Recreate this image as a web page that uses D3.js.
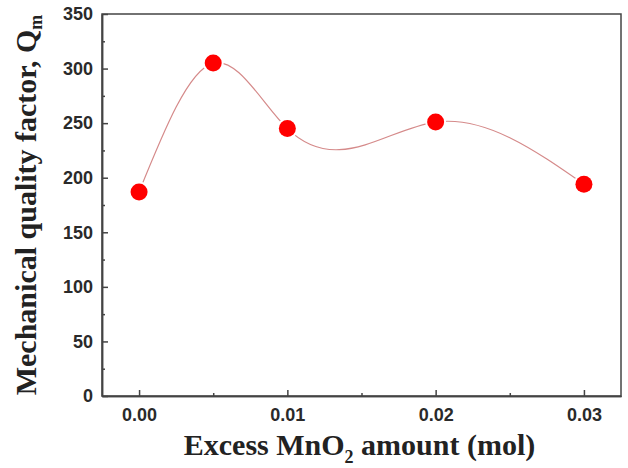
<!DOCTYPE html>
<meta charset="utf-8">
<style>
	body {
		margin: 0;
		background: #fff;
	}

	.axis text {
		font: bold 18px "Liberation Sans", Arial, sans-serif;
		fill: #2a2a2a;
	}

	.axis path,
	.axis line {
		fill: none;
		stroke: #444;
		stroke-width: 1.5;
	}

	.label {
		font: bold 30px "Liberation Serif", "Times New Roman", serif;
		fill: #222;
	}
</style>

<body>
	<script src="https://d3js.org/d3.v7.min.js"></script>
	<script>
		var excess = [0.000, 0.005, 0.010, 0.020, 0.030];
		var qm = [187, 305, 245, 251, 194];
		var xTicks = [0.00, 0.01, 0.02, 0.03];
		var yTicks = [0, 50, 100, 150, 200, 250, 300, 350];

		var margin = {
				top: 14,
				right: 7,
				bottom: 72,
				left: 102
			},
			width = 628 - margin.left - margin.right,
			height = 468 - margin.top - margin.bottom;

		var data = excess.map(function(d, i) {
			return { x: d, y: qm[i] };
		});

		// natural cubic spline y(x), drawn as exact bezier pieces
		function SplineX(context) {
			this._context = context;
		}
		SplineX.prototype = {
			areaStart: function() {},
			areaEnd: function() {},
			lineStart: function() { this._x = []; this._y = []; },
			point: function(x, y) { this._x.push(+x); this._y.push(+y); },
			lineEnd: function() {
				var xs = this._x, ys = this._y, n = xs.length - 1, c = this._context;
				if (n < 1) return;
				var h = [], i;
				for (i = 0; i < n; i++) h.push(xs[i + 1] - xs[i]);
				// solve for second derivatives, M0 = Mn = 0
				var M = new Array(n + 1).fill(0);
				if (n > 1) {
					var a = [], b = [], cc = [], r = [];
					for (i = 1; i < n; i++) {
						a.push(h[i - 1]);
						b.push(2 * (h[i - 1] + h[i]));
						cc.push(h[i]);
						r.push(6 * ((ys[i + 1] - ys[i]) / h[i] - (ys[i] - ys[i - 1]) / h[i - 1]));
					}
					var m = b.length;
					for (i = 1; i < m; i++) {
						var w = a[i] / b[i - 1];
						b[i] -= w * cc[i - 1];
						r[i] -= w * r[i - 1];
					}
					M[m] = r[m - 1] / b[m - 1];
					for (i = m - 2; i >= 0; i--) M[i + 1] = (r[i] - cc[i] * M[i + 2]) / b[i];
				}
				var d = [];
				for (i = 0; i < n; i++) {
					d.push(-M[i] * h[i] / 3 - M[i + 1] * h[i] / 6 + (ys[i + 1] - ys[i]) / h[i]);
				}
				d.push(M[n - 1] * h[n - 1] / 6 + M[n] * h[n - 1] / 3 + (ys[n] - ys[n - 1]) / h[n - 1]);
				c.moveTo(xs[0], ys[0]);
				for (i = 0; i < n; i++) {
					c.bezierCurveTo(
						xs[i] + h[i] / 3, ys[i] + d[i] * h[i] / 3,
						xs[i + 1] - h[i] / 3, ys[i + 1] - d[i + 1] * h[i] / 3,
						xs[i + 1], ys[i + 1]);
				}
			}
		};
		function curveSplineX(context) { return new SplineX(context); }

		var x = d3.scaleLinear()
			.domain([-0.0025, 0.0325])
			.range([0, width]);

		var y = d3.scaleLinear()
			.domain([0, 350])
			.range([height, 0]);

		var svg = d3.select("body").append("svg")
			.attr("width", width + margin.left + margin.right)
			.attr("height", height + margin.top + margin.bottom)
			.append("g")
			.attr("transform", "translate(" + margin.left + "," + margin.top + ")");

		// minor ticks first, no labels
		svg.append("g")
			.attr("class", "axis")
			.attr("transform", "translate(0," + height + ")")
			.call(d3.axisBottom(x).tickValues([0.005, 0.015, 0.025]).tickSizeInner(-3).tickSizeOuter(0).tickFormat(""));

		svg.append("g")
			.attr("class", "axis")
			.call(d3.axisLeft(y).tickValues([25, 75, 125, 175, 225, 275, 325]).tickSizeInner(-3).tickSizeOuter(0).tickFormat(""));

		svg.append("g")
			.attr("class", "axis")
			.attr("transform", "translate(0," + height + ")")
			.call(d3.axisBottom(x).tickValues(xTicks).tickSizeInner(-6).tickSizeOuter(0).tickPadding(12).tickFormat(d3.format(".2f")));

		svg.append("g")
			.attr("class", "axis")
			.call(d3.axisLeft(y).tickValues(yTicks).tickSizeInner(-6).tickSizeOuter(0).tickPadding(9));

		// frame
		svg.append("rect")
			.attr("width", width)
			.attr("height", height)
			.attr("fill", "none")
			.attr("stroke", "#444")
			.attr("stroke-width", 1.5);

		var line = d3.line()
			.x(function(d) { return x(d.x); })
			.y(function(d) { return y(d.y); })
			.curve(curveSplineX);

		svg.append("path")
			.datum(data)
			.attr("d", line)
			.attr("fill", "none")
			.attr("stroke", "#d58a8a")
			.attr("stroke-width", 1.2);

		svg.selectAll(".dot")
			.data(data)
			.enter().append("circle")
			.attr("class", "dot")
			.attr("r", 8.5)
			.attr("cx", function(d) { return x(d.x); })
			.attr("cy", function(d) { return y(d.y); })
			.attr("fill", "#ff0000")
			.attr("stroke", "#fff")
			.attr("stroke-width", 4)
			.attr("paint-order", "stroke");

		// axis titles
		var xl = svg.append("text")
			.attr("class", "label")
			.attr("x", width / 2 - 2)
			.attr("y", height + 59)
			.attr("text-anchor", "middle");
		xl.append("tspan").text("Excess MnO");
		xl.append("tspan").attr("font-size", "18px").attr("dy", 8).text("2");
		xl.append("tspan").attr("dy", -8).text(" amount (mol)");

		var yl = svg.append("text")
			.attr("class", "label")
			.attr("transform", "translate(-66," + (height / 2) + ") rotate(-90)")
			.attr("text-anchor", "middle");
		yl.append("tspan").text("Mechanical quality factor, Q");
		yl.append("tspan").attr("font-size", "18px").attr("dy", 6).text("m");
	</script>
</body>
